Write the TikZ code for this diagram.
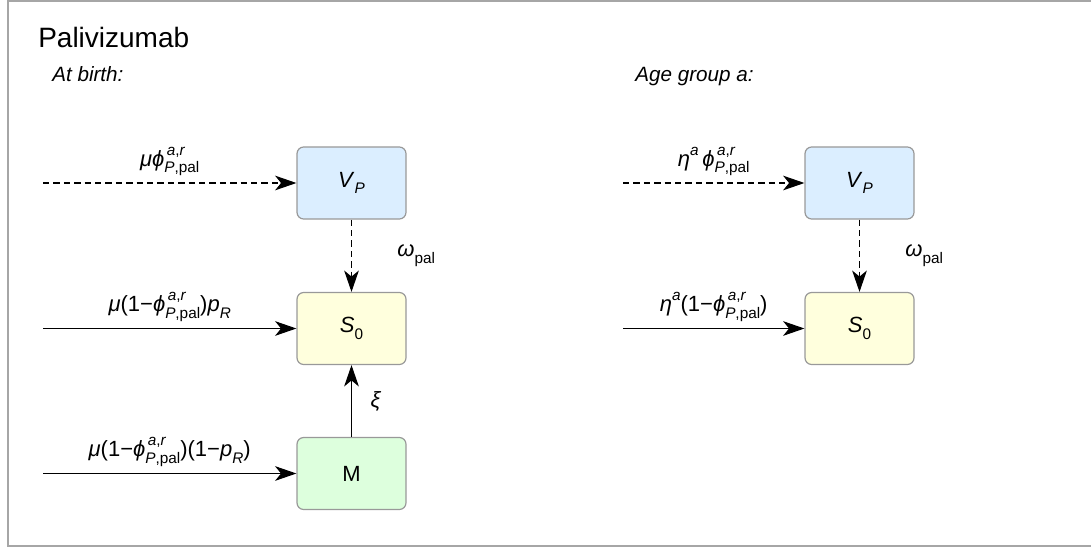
\documentclass[tikz,border=0pt]{standalone}
\usepackage{fontspec}
\setmainfont{Liberation Sans}
\usetikzlibrary{arrows.meta}

\definecolor{frameline}{HTML}{A6A6A6}
\definecolor{boxline}{HTML}{999999}
\definecolor{vfill}{HTML}{DBEEFF}
\definecolor{sfill}{HTML}{FFFFDD}
\definecolor{mfill}{HTML}{DDFFDD}

% sub- and superscripts set as text
\newcommand\lo[1]{\raisebox{-0.3em}{\fontsize{11.5}{11.5}\selectfont #1}}
\newcommand\hi[1]{\raisebox{0.5em}{\fontsize{11.5}{11.5}\selectfont #1}}
\newcommand\stk[2]{\setbox0\hbox{\hi{#1}}\setbox2\hbox{\lo{#2}}%
  \ifdim\wd0>\wd2 \rlap{\box2}\box0 \else \rlap{\box0}\box2 \fi}
\newcommand\phipal{\textit{ϕ}\stk{\,\textit{a},\textit{r}}{\textit{P},pal}}

\begin{document}
\begin{tikzpicture}[x=0.75pt,y=-0.75pt,
  every node/.style={inner sep=0pt,font=\fontsize{16.5}{19}\selectfont},
  comp/.style={draw=boxline,line width=0.9pt,rounded corners=5pt,
    minimum width=81.75pt,minimum height=54pt},
  flow/.style={line width=0.8pt,-{Stealth[length=16pt,width=11pt,inset=4.5pt]}},
  pflow/.style={flow,dash pattern=on 4.8pt off 3pt},
  rate/.style={above=5pt,midway}
]
\useasboundingbox (0,0) rectangle (1091,549);
\draw[frameline,line width=1.1pt] (1092,1) -- (8,1) -- (8,546) -- (1092,546);

\node[anchor=base west,font=\fontsize{21}{24}\selectfont] (title) at (38,48) {Palivizumab};
\node[anchor=base west,font=\fontsize{15.5}{18}\selectfont\itshape] (birth) at (52,82) {At birth:};
\node[anchor=base west,font=\fontsize{15.5}{18}\selectfont\itshape] (age) at (635,82) {Age group a:};

% compartments at birth
\node[comp,fill=vfill] (vp) at (351.5,183) {\textit{V}\lo{\textit{P}}};
\node[comp,fill=sfill] (s0) at (351.5,328.5) {\textit{S}\lo{0}};
\node[comp,fill=mfill] (m) at (351.5,473.5) {M};

\coordinate (in1) at (43,183);
\coordinate (in2) at (43,328.5);
\coordinate (in3) at (43,473.5);

\draw[pflow] (in1) -- (vp.west) node[rate] (l1) {\textit{μ}\phipal};
\draw[flow] (in2) -- (s0.west) node[rate] (l2) {\textit{μ}(1−\phipal)\textit{p}\lo{\textit{R}}};
\draw[flow] (in3) -- (m.west) node[rate] (l3) {\textit{μ}(1−\phipal)(1−\textit{p}\lo{\textit{R}})};
\draw[pflow] (vp.south) -- (s0.north) node[midway,right=34pt] (w1) {\textit{ω}\lo{pal}};
\draw[flow] (m.north) -- (s0.south) node[midway,right=14pt] (xi) {\textit{ξ}};

% compartments for age group a
\node[comp,fill=vfill] (vpa) at (859.5,183) {\textit{V}\lo{\textit{P}}};
\node[comp,fill=sfill] (s0a) at (859.5,328.5) {\textit{S}\lo{0}};

\coordinate (in4) at (623,183);
\coordinate (in5) at (623,328.5);

\draw[pflow] (in4) -- (vpa.west) node[rate] (l4) {\textit{η}\hi{\textit{a}}\,\phipal};
\draw[flow] (in5) -- (s0a.west) node[rate] (l5) {\textit{η}\hi{\textit{a}}(1−\phipal)};
\draw[pflow] (vpa.south) -- (s0a.north) node[midway,right=34pt] (w2) {\textit{ω}\lo{pal}};
\end{tikzpicture}
\end{document}
